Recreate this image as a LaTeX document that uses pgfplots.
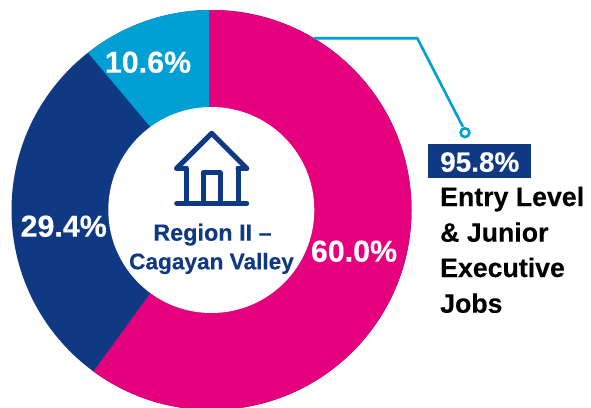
\documentclass[border=0pt]{standalone}
\usepackage{fontspec}
\setmainfont{Liberation Sans}[BoldFeatures={FakeBold=0.25}]
\usepackage{pgfplots}
\usepackage{pgfplotstable}
\pgfplotsset{compat=1.18}
\definecolor{cpink}{HTML}{E5007D}
\definecolor{cnavy}{HTML}{0F3983}
\definecolor{ccyan}{HTML}{009FD4}
\pgfplotstableread{
name value
pink 60.0
navy 29.4
cyan 10.6
}\shares
\pgfplotstablegetelem{0}{value}\of\shares \let\vA\pgfplotsretval
\pgfplotstablegetelem{1}{value}\of\shares \let\vB\pgfplotsretval
\pgfmathsetmacro{\aA}{90-3.6*\vA}
\pgfmathsetmacro{\aB}{\aA-3.6*\vB+1.84}
\newcommand{\fs}[1]{\fontsize{#1}{#1}\selectfont\bfseries}
\begin{document}
\begin{tikzpicture}[x=1bp,y=1bp]
\begin{axis}[
  at={(0,0)}, anchor=south west,
  width=591bp, height=408bp, scale only axis,
  xmin=0, xmax=591, ymin=0, ymax=408, y dir=reverse,
  hide axis, clip=false,
  every axis plot/.append style={forget plot},
]
\begin{scope}
\clip (axis cs:211.5,210) circle[radius=200bp];
\fill[cnavy] (axis cs:0,0) rectangle (axis cs:420,420);
\fill[cpink] (axis cs:213,207) -- (axis cs:209,150) -- (axis cs:209,0) -- (axis cs:420,0) -- (axis cs:420,420) -- (axis cs:100,420) -- (axis cs:213,207) -- ++(\aA:300bp) -- (axis cs:100,420) -- cycle;
\fill[ccyan] (axis cs:214.3,203.2) -- (axis cs:209,150) -- (axis cs:209,0) -- (axis cs:60,0) -- (axis cs:214.3,203.2) -- ++(\aB:300bp) -- (axis cs:60,0) -- cycle;
\end{scope}
\fill[white] (axis cs:211.3,210) circle[radius=103bp];
% house icon
\addplot[cnavy, line width=5bp, line cap=round, line join=round] coordinates {(176.7,168.3)(211.7,133.3)(246.7,168.3)};
\addplot[cnavy, line width=5bp, line cap=round, line join=round] coordinates {(176.7,168.3)(186,168.3)};
\addplot[cnavy, line width=5bp, line cap=round, line join=round] coordinates {(246.7,168.3)(238,168.3)};
\addplot[cnavy, line width=5bp, line cap=round, line join=round] coordinates {(186,168.3)(186,203.3)};
\addplot[cnavy, line width=5bp, line cap=round, line join=round] coordinates {(238,168.3)(238,203.3)};
\addplot[cnavy, line width=5bp, line cap=round, line join=round] coordinates {(176.7,203.3)(246.7,203.3)};
\addplot[cnavy, line width=5bp, line join=round] coordinates {(203.3,203.3)(203.3,172.7)(220,172.7)(220,203.3)};
% leader
\addplot[ccyan, line width=2.6bp, line join=miter] coordinates {(314,38.3)(417.3,38.3)(463,127)};
\addplot[only marks, mark=o, mark size=4.4bp, mark options={ccyan, line width=2.6bp, fill=white}] coordinates {(465,132.7)};
% callout box
\fill[cnavy] (axis cs:428,144) rectangle (axis cs:531,177.7);
\node[anchor=base west, inner sep=0, text=white] at (axis cs:440,171.7) {\fs{28}95.8\%};
\node[anchor=base west, inner sep=0] at (axis cs:440,206) {\fs{26.8}Entry Level};
\node[anchor=base west, inner sep=0] at (axis cs:440,241.7) {\fs{26.8}\& Junior};
\node[anchor=base west, inner sep=0] at (axis cs:440,277) {\fs{26.8}Executive};
\node[anchor=base west, inner sep=0] at (axis cs:440,312.7) {\fs{26.8}Jobs};
% slice labels
\node[anchor=base, inner sep=0, text=white] at (axis cs:148,72.7) {\fs{30.5}10.6\%};
\node[anchor=base, inner sep=0, text=white] at (axis cs:63.7,236.7) {\fs{30.5}29.4\%};
\node[anchor=base, inner sep=0, text=white] at (axis cs:354,261.7) {\fs{30.5}60.0\%};
% centre
\node[anchor=base, inner sep=0, text=cnavy] at (axis cs:212.5,240.7) {\fs{23.5}Region II --};
\node[anchor=base, inner sep=0, text=cnavy] at (axis cs:211.5,269.3) {\fs{22.7}Cagayan Valley};
\end{axis}
\pgfresetboundingbox
\path (0,0) rectangle (591bp,408bp);
\end{tikzpicture}
\end{document}
